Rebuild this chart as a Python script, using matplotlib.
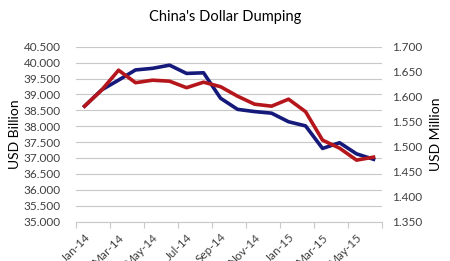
import numpy as np
import matplotlib
matplotlib.use('Agg')
import matplotlib.pyplot as plt

plt.rcParams['font.family'] = ['Lato', 'DejaVu Sans']

months = ['Jan-14', 'Feb-14', 'Mar-14', 'Apr-14', 'May-14', 'Jun-14',
          'Jul-14', 'Aug-14', 'Sep-14', 'Oct-14', 'Nov-14', 'Dec-14',
          'Jan-15', 'Feb-15', 'Mar-15', 'Apr-15', 'May-15', 'Jun-15']
usd_billion = [38.63, 39.14, 39.45, 39.77, 39.82, 39.92, 39.66, 39.68, 38.88,
               38.53, 38.46, 38.41, 38.14, 38.01, 37.30, 37.48, 37.13, 36.96]
usd_million = [1.581, 1.613, 1.653, 1.628, 1.633, 1.631, 1.618, 1.629, 1.620,
               1.601, 1.585, 1.581, 1.595, 1.570, 1.513, 1.497, 1.473, 1.479]
left_ticks = np.arange(35.0, 40.51, 0.5)
right_ticks = np.arange(1.35, 1.701, 0.05)

text_col = '#404040'
grid_col = '#c8c8c8'

fig = plt.figure(figsize=(4.5, 2.61), dpi=100)
ax = fig.add_axes([0.169, 0.151, 0.680, 0.670])
ax2 = ax.twinx()

x = np.arange(len(months)) + 0.5
ax.plot(x, usd_billion, color='#14197a', lw=2.6, solid_joinstyle='round', zorder=3)
ax2.plot(x, usd_million, color='#b5161b', lw=2.6, solid_joinstyle='round', zorder=4)

ax.set_xlim(0, len(months))
ax.set_ylim(35.0, 40.5)
ax2.set_ylim(1.35, 1.70)
ax.set_yticks(left_ticks)
ax.set_yticklabels(['%.3f' % v for v in left_ticks])
ax2.set_yticks(right_ticks)
ax2.set_yticklabels(['%.3f' % v for v in right_ticks])

# tick marks between categories, labels on every other category
ax.set_xticks(np.arange(0, len(months) + 1, 2))
ax.set_xticklabels([])
ax.set_xticks(x[::2], minor=True)
ax.set_xticklabels(months[::2], minor=True, rotation=45, ha='right',
                   rotation_mode='anchor')
ax.tick_params(axis='x', which='major', length=4, color=grid_col, width=0.8)
ax.tick_params(axis='x', which='minor', length=0, pad=7, labelsize=8.5,
               labelcolor=text_col)
ax.tick_params(axis='y', length=0, pad=11, labelsize=8.5, labelcolor=text_col)
ax2.tick_params(axis='y', length=0, pad=7, labelsize=8.5, labelcolor=text_col)

ax.grid(axis='y', color=grid_col, lw=0.8)
ax.set_axisbelow(True)
for a in (ax, ax2):
    for s in ['top', 'left', 'right']:
        a.spines[s].set_visible(False)
    a.spines['bottom'].set_color(grid_col)
ax2.spines['bottom'].set_visible(False)

ax.set_ylabel('USD Billion', fontsize=10, color='black', labelpad=2)
ax2.set_ylabel('USD Million', fontsize=10, color='black', rotation=90, labelpad=6)
fig.text(0.5, 0.935, "China's Dollar Dumping", ha='center', va='center',
         fontsize=10.5, color='black')

fig.savefig('out.png', dpi=100)
